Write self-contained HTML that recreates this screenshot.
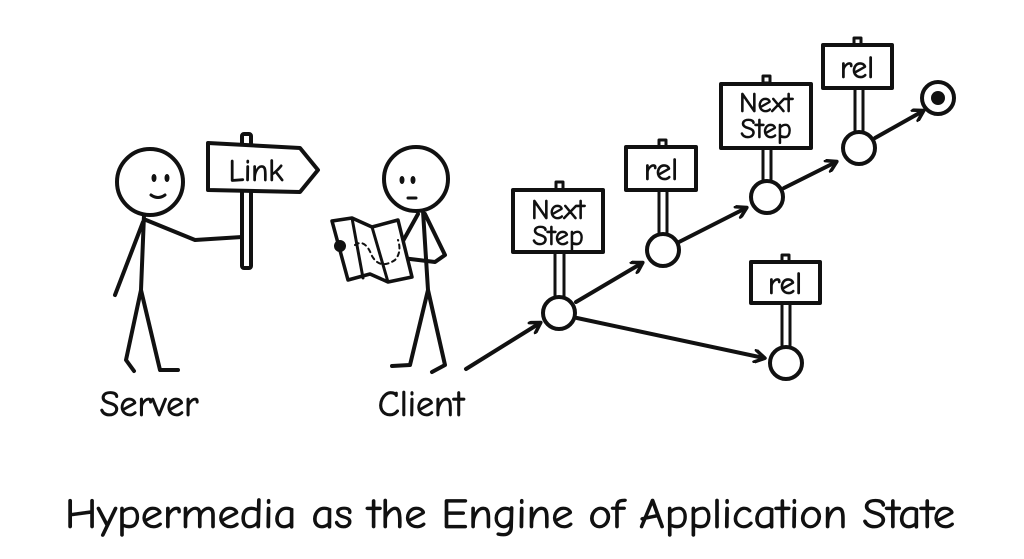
<!DOCTYPE html>
<html><head><meta charset="utf-8"><style>
body{margin:0;background:#fff;width:1024px;height:559px;overflow:hidden}
svg{display:block}
text{font-family:"Comic Neue","Liberation Sans",sans-serif;fill:#111;stroke:#111;stroke-width:0.8}
</style></head><body>
<svg width="1024" height="559" viewBox="0 0 1024 559" xmlns="http://www.w3.org/2000/svg">
<defs><marker id="a" markerWidth="14" markerHeight="14" refX="11" refY="7" orient="auto" markerUnits="userSpaceOnUse"><path d="M2,1 L12,7 L2,13" fill="none" stroke="#111" stroke-width="3.5" stroke-linecap="round" stroke-linejoin="round"/></marker></defs>
<g fill="none" stroke="#111" stroke-width="4" stroke-linecap="round" stroke-linejoin="round">
<circle cx="150" cy="182" r="33"/>
<path d="M144,215 L141,290 M141,290 L126,360 L134,371 M141,290 L160,370 L178,370"/>
<path d="M143,222 L115,295"/>
<path d="M146,220 L195,240 L242,237"/>
<rect x="242" y="134" width="9" height="134" rx="2" fill="#fff"/>
<path d="M208,143 L300,148 L318,170 L300,192 L208,190 Z" fill="#fff"/>
<circle cx="416" cy="179" r="32"/>
<path d="M423,211 L428,290 M428,290 L410,365 L392,366 M428,290 L445,365 L432,372"/>
<path d="M418,214 L398,250 M425,214 L445,255 L435,262 L402,258"/>
<path d="M332,221 L352,218 L372,227 L398,220 L412,277 L388,282 L370,274 L348,280 Z" fill="#fff" stroke-width="3.5"/>
<path d="M352,218 L363,278 M372,227 L388,282" stroke-width="3"/>
<path d="M355,245 Q365,238 372,256 Q380,270 395,260 Q402,252 398,240" stroke-width="2" stroke-dasharray="4 4"/>
<circle cx="340" cy="246" r="4" fill="#111"/>
<path d="M466,369 L540,323" marker-end="url(#a)"/>
<path d="M576,302 L642,263" marker-end="url(#a)"/>
<path d="M679,242 L746,208" marker-end="url(#a)"/>
<path d="M784,188 L836,162" marker-end="url(#a)"/>
<path d="M875,138 L923,111" marker-end="url(#a)"/>
<path d="M577,318 L764,358" marker-end="url(#a)"/>
<g stroke-width="3">
<path d="M555,253 L555,297 M564,253 L564,297"/>
<path d="M659,190 L659,234 M667,190 L667,234"/>
<path d="M763,148 L763,181 M771,148 L771,181"/>
<path d="M855,88 L855,132 M863,88 L863,132"/>
<path d="M782,303 L782,347 M790,303 L790,347"/>
<rect x="556" y="182" width="7" height="8"/>
<rect x="659" y="140" width="7" height="7"/>
<rect x="763" y="76" width="7" height="7"/>
<rect x="854" y="38" width="7" height="7"/>
<rect x="782" y="255" width="7" height="7"/>
</g>
<rect x="513" y="190" width="90" height="62" fill="#fff"/>
<rect x="626" y="147" width="70" height="43" fill="#fff"/>
<rect x="721" y="84" width="90" height="64" fill="#fff"/>
<rect x="823" y="45" width="69" height="43" fill="#fff"/>
<rect x="751" y="262" width="69" height="41" fill="#fff"/>
<circle cx="559" cy="313" r="16" fill="#fff"/>
<circle cx="663" cy="250" r="16" fill="#fff"/>
<circle cx="767" cy="197" r="16" fill="#fff"/>
<circle cx="859" cy="148" r="16" fill="#fff"/>
<circle cx="786" cy="363" r="16" fill="#fff"/>
<circle cx="938" cy="98" r="16"/>
</g>
<circle cx="938" cy="98" r="7" fill="#111"/>
<g fill="#111"><ellipse cx="154" cy="178" rx="2.5" ry="4"/><ellipse cx="167" cy="178" rx="2.5" ry="4"/>
<ellipse cx="402" cy="180" rx="2.5" ry="4"/><ellipse cx="413" cy="180" rx="2.5" ry="4"/></g>
<path d="M151,195 Q158,200 165,195" fill="none" stroke="#111" stroke-width="3" stroke-linecap="round"/>
<path d="M408,198 L416,198" fill="none" stroke="#111" stroke-width="3" stroke-linecap="round"/>
<g font-size="31" text-anchor="middle">
<text x="256" y="181">Link</text>
<text x="558" y="219" font-size="28">Next</text><text x="558" y="245" font-size="28">Step</text>
<text x="661" y="180">rel</text>
<text x="766" y="112" font-size="28">Next</text><text x="766" y="138" font-size="28">Step</text>
<text x="857" y="78">rel</text>
<text x="785" y="294">rel</text>
</g>
<g font-size="36" text-anchor="middle">
<text x="149" y="416">Server</text>
<text x="421" y="416">Client</text>
</g>
<text x="510" y="528" font-size="42" text-anchor="middle" textLength="890" lengthAdjust="spacingAndGlyphs">Hypermedia as the Engine of Application State</text>
</svg>
</body></html>
